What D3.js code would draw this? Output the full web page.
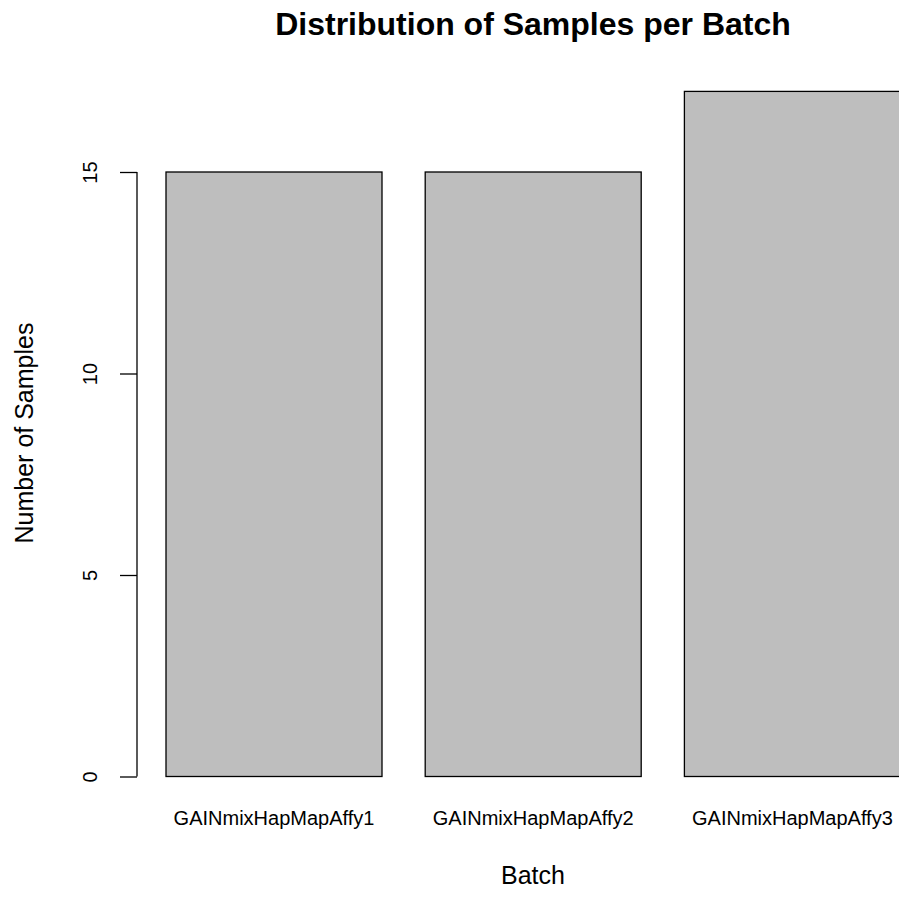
<!DOCTYPE html>
<html>
<head>
<meta charset="utf-8">
<script src="https://cdn.jsdelivr.net/npm/d3@7"></script>
<style>
  body { margin: 0; background: #fff; }
  svg text { font-family: "Liberation Sans", Arial, sans-serif; fill: #000; }
</style>
</head>
<body>
<div id="canvas"></div>
<script>
const batches = ["GAINmixHapMapAffy1", "GAINmixHapMapAffy2", "GAINmixHapMapAffy3"];
const counts = [15, 15, 17];
const yTicks = [0, 5, 10, 15];
const chartTitle = "Distribution of Samples per Batch";
const xTitle = "Batch";
const yTitle = "Number of Samples";

const w = 899, h = 915;
const plotLeft = 137, plotCenterX = 533, plotCenterY = 433;

let svg = d3.select("#canvas")
            .append("svg")
                .attr("width", w)
                .attr("height", h)
                .attr("viewBox", [0, 0, w, h]);

// bars are 1 unit wide with 0.2 unit gaps, like R's barplot
let x = d3.scaleBand()
    .domain(batches)
    .range([166, 166 + 3.4 * 216])
    .paddingInner(0.2 / 1.2)
    .paddingOuter(0);

let y = d3.scaleLinear()
    .domain([0, 15])
    .range([776.5, 172]);

svg.append("g")
    .selectAll("rect")
        .data(counts)
    .enter().append("rect")
        .attr("x", (d, i) => x(batches[i]))
        .attr("y", (d) => y(d))
        .attr("width", x.bandwidth())
        .attr("height", (d) => y(0) - y(d))
        .attr("fill", "#bebebe")
        .attr("stroke", "#000")
        .attr("stroke-width", 1.3);

// y axis
let yAxis = d3.axisLeft(y)
    .tickValues(yTicks)
    .tickSize(17)
    .tickSizeOuter(0);

let gY = svg.append("g")
    .attr("transform", "translate(" + plotLeft + ",0)")
    .call(yAxis);
gY.select(".domain").remove();
gY.append("line")
    .attr("x1", 0).attr("x2", 0)
    .attr("y1", y(yTicks[0])).attr("y2", y(yTicks[yTicks.length - 1]))
    .attr("stroke", "#000")
    .attr("stroke-width", 1.3);
gY.selectAll(".tick line")
    .attr("stroke", "#000")
    .attr("stroke-width", 1.3);
gY.selectAll(".tick text")
    .attr("transform", "rotate(-90)")
    .attr("x", 0)
    .attr("y", -40)
    .attr("dy", null)
    .attr("text-anchor", "middle")
    .style("font-size", "20px")
    .style("font-family", "'Liberation Sans', Arial, sans-serif")
    .attr("fill", "#000");

// bar names
svg.append("g")
    .selectAll("text")
        .data(batches)
    .enter().append("text")
        .attr("x", (d) => x(d) + x.bandwidth() / 2)
        .attr("y", 825)
        .attr("text-anchor", "middle")
        .style("font-size", "20px")
        .text((d) => d);

svg.append("text")
    .attr("x", plotCenterX)
    .attr("y", 35)
    .attr("text-anchor", "middle")
    .style("font-size", "32px")
    .style("font-weight", "bold")
    .text(chartTitle);

svg.append("text")
    .attr("x", plotCenterX)
    .attr("y", 884)
    .attr("text-anchor", "middle")
    .style("font-size", "25px")
    .text(xTitle);

svg.append("text")
    .attr("transform", "translate(33," + plotCenterY + ") rotate(-90)")
    .attr("text-anchor", "middle")
    .style("font-size", "25px")
    .text(yTitle);
</script>
</body>
</html>
